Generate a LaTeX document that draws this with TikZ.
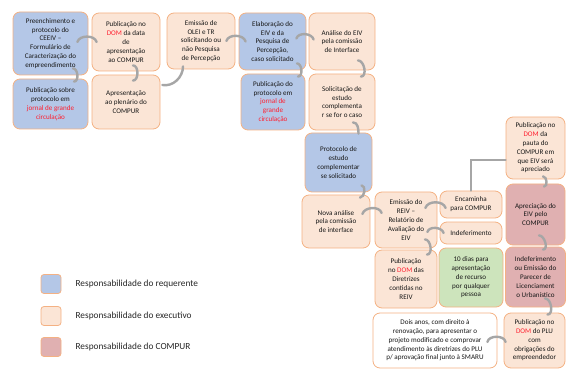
\documentclass[tikz,border=0pt]{standalone}
\usepackage{fontspec}
\setmainfont{Carlito}
\usepackage{xcolor}
\usetikzlibrary{positioning}

\definecolor{requerente}{HTML}{B4C7E7}
\definecolor{executivo}{HTML}{FBE5D6}
\definecolor{compur}{HTML}{E0B0B1}
\definecolor{recurso}{HTML}{CDE4BC}
\definecolor{borda}{HTML}{F4B183}
\definecolor{ligacao}{HTML}{A6A6A6}
\definecolor{vermelho}{HTML}{FF2030}

\newcommand{\verm}[1]{\textcolor{vermelho}{#1}}

\tikzset{
  etapa/.style={draw=borda, line width=0.8pt, rounded corners=7pt, align=center,
    inner sep=1pt, text=black!90, font=\fontsize{7.1}{8.8}\selectfont},
  tam/.style 2 args={minimum width=#1pt, minimum height=#2pt},
  liga/.style={draw=ligacao, line width=2.4pt, line cap=round},
  legenda/.style={draw=borda, line width=0.8pt, rounded corners=3pt,
    minimum width=20pt, minimum height=19pt, inner sep=0pt},
  legtexto/.style={inner sep=0pt, text=black!85, font=\fontsize{9.3}{11}\selectfont}
}

\begin{document}
\begin{tikzpicture}[x=1pt,y=1pt]
  \useasboundingbox (0,0) rectangle (566,-369);

  % the steps of the process
  \node[etapa, fill=requerente, tam={75}{63}] (preench) at (50.5,-43.5) {Preenchimento e\\protocolo do\\CEEIV –\\Formulário de\\Caracterização do\\empreendimento};
  \node[etapa, fill=requerente, tam={75}{50}] (pubsobre) at (50.5,-104) {Publicação sobre\\protocolo em\\\verm{jornal de grande}\\\verm{circulação}};
  \node[etapa, fill=executivo, tam={68}{58}] (pubdata) at (126,-42) {Publicação no\\\verm{DOM} da data\\de\\apresentação\\ao COMPUR};
  \node[etapa, fill=executivo, tam={68}{54}] (apresent) at (126,-102) {Apresentação\\ao plenário do\\COMPUR};
  \node[etapa, fill=executivo, tam={68}{56}] (olei) at (201,-41) {Emissão de\\OLEI e TR\\solicitando ou\\não Pesquisa\\de Percepção};
  \node[etapa, fill=requerente, tam={67}{57}] (elabora) at (272.5,-41.5) {Elaboração do\\EIV e da\\Pesquisa de\\Percepção,\\caso solicitado};
  \node[etapa, fill=requerente, tam={64}{56}] (pubprot) at (273,-102) {Publicação do\\protocolo em\\\verm{jornal de}\\\verm{grande}\\\verm{circulação}};
  \node[etapa, fill=executivo, tam={66}{57}] (analise) at (342,-41.5) {Análise do EIV\\pela comissão\\de Interface};
  \node[etapa, fill=executivo, tam={66}{56}] (solicita) at (342,-102) {Solicitação de\\estudo\\complementa\\r se for o caso};
  \node[etapa, fill=requerente, tam={67}{59}] (protcompl) at (338.5,-162.5) {Protocolo de\\estudo\\complementar\\se solicitado};
  \node[etapa, fill=executivo, tam={68}{53}] (novaanalise) at (336,-221.5) {Nova análise\\pela comissão\\de interface};
  \node[etapa, fill=executivo, tam={62}{56}] (reiv) at (406,-220) {Emissão do\\REIV –\\Relatório de\\Avaliação do\\EIV};
  \node[etapa, fill=executivo, tam={62}{58}] (pubdir) at (406,-279) {Publicação\\no \verm{DOM} das\\Diretrizes\\contidas no\\REIV};
  \node[etapa, fill=executivo, tam={62}{27}] (encaminha) at (471,-204.5) {Encaminha\\para COMPUR};
  \node[etapa, fill=executivo, tam={62}{22}] (indefere) at (471,-233) {Indeferimento};
  \node[etapa, fill=recurso, tam={64}{59}] (prazo) at (471,-277.5) {10 dias para\\apresentação\\de recurso\\por qualquer\\pessoa};
  \node[etapa, fill=executivo, tam={59}{62}] (pubpauta) at (535.5,-148) {Publicação no\\\verm{DOM} da\\pauta do\\COMPUR em\\que EIV será\\apreciado};
  \node[etapa, fill=compur, tam={59}{61}] (aprecia) at (535.5,-214.5) {Apreciação do\\EIV pelo\\COMPUR};
  \node[etapa, fill=compur, tam={60}{60}] (parecer) at (535.5,-277) {Indeferimento\\ou Emissão do\\Parecer de\\Licenciament\\o Urbanístico};
  \node[etapa, fill=executivo, tam={61}{55}] (pubplu) at (534.5,-340.5) {Publicação no\\\verm{DOM} do PLU\\com\\obrigações do\\empreendedor};
  \node[etapa, fill=white, tam={124}{55}] (doisanos) at (435,-340.5) {Dois anos, com direito à\\renovação, para apresentar o\\projeto modificado e comprovar\\atendimento às diretrizes do PLU\\p/ aprovação final junto à SMARU};

  % the curved links between the steps
  \draw[liga] ([xshift=-11pt,yshift=1.5pt]preench.east) to[out=75,in=105] ([xshift=5pt]pubdata.west);
  \draw[liga] ([xshift=22.5pt,yshift=7pt]preench.south) to[out=0,in=0] ([xshift=23.5pt,yshift=-3pt]pubsobre.north);
  \draw[liga] ([xshift=7pt,yshift=6pt]pubdata.south) to[out=0,in=0] ([xshift=7pt,yshift=-6pt]apresent.north);
  \draw[liga] ([xshift=2pt,yshift=17pt]apresent.east) to[out=-10,in=-90] ([xshift=-18pt,yshift=3pt]olei.south);
  \draw[liga] ([xshift=-9pt]olei.east) to[out=75,in=105] ([xshift=7pt]elabora.west);
  \draw[liga] ([xshift=24.5pt,yshift=7pt]elabora.south) to[out=0,in=0] ([xshift=25pt,yshift=-3pt]pubprot.north);
  \draw[liga] ([xshift=-10pt,yshift=3pt]elabora.east) to[out=75,in=105] ([xshift=5pt,yshift=2pt]analise.west);
  \draw[liga] ([xshift=16pt,yshift=10pt]analise.south) to[out=0,in=0] ([xshift=19pt,yshift=-3pt]solicita.north);
  \draw[liga] ([xshift=11pt,yshift=8pt]solicita.south) to[out=0,in=90] ([xshift=20pt,yshift=-1pt]protcompl.north);
  \draw[liga] ([xshift=23pt,yshift=7pt]protcompl.south) to[out=0,in=0] ([xshift=24pt,yshift=-3pt]novaanalise.north);
  \draw[liga] ([xshift=-8pt,yshift=7.5pt]novaanalise.east) to[out=75,in=105] ([xshift=7pt,yshift=7pt]reiv.west);
  \draw[liga] ([xshift=-12pt,yshift=12pt]reiv.east) to[out=75,in=105] ([xshift=6pt,yshift=-3.5pt]encaminha.west);
  \draw[liga] ([xshift=-10pt,yshift=-12pt]reiv.east) to[out=75,in=105] ([xshift=4pt]indefere.west);
  \draw[liga] ([xshift=19pt,yshift=9pt]reiv.south) to[out=0,in=0] ([xshift=21pt,yshift=-5pt]pubdir.north);
  \draw[liga] (encaminha.north) |- ([yshift=-12pt]pubpauta.west);
  \draw[liga] ([xshift=7.5pt,yshift=3pt]pubpauta.south) to[out=0,in=0] ([xshift=8.5pt,yshift=-3pt]aprecia.north);
  \draw[liga] ([xshift=3.5pt,yshift=10pt]aprecia.south) to[out=0,in=0] ([xshift=7.5pt,yshift=-3pt]parecer.north);
  \draw[liga] ([xshift=9.5pt,yshift=9pt]parecer.south) to[out=0,in=0] ([xshift=13pt,yshift=-2pt]pubplu.north);
  \draw[liga] ([xshift=2pt,yshift=-1.5pt]pubplu.west) to[out=100,in=80] ([xshift=-10pt,yshift=-1.5pt]doisanos.east);

  % the legend
  \node[legenda, fill=requerente] (legreq) at (51,-284) {};
  \node[legtexto, right=14pt of legreq] (txtreq) {Responsabilidade do requerente};
  \node[legenda, fill=executivo] (legexec) at (51,-316) {};
  \node[legtexto, right=14pt of legexec] (txtexec) {Responsabilidade do executivo};
  \node[legenda, fill=compur] (legcompur) at (51,-347) {};
  \node[legtexto, right=14pt of legcompur] (txtcompur) {Responsabilidade do COMPUR};
\end{tikzpicture}
\end{document}
